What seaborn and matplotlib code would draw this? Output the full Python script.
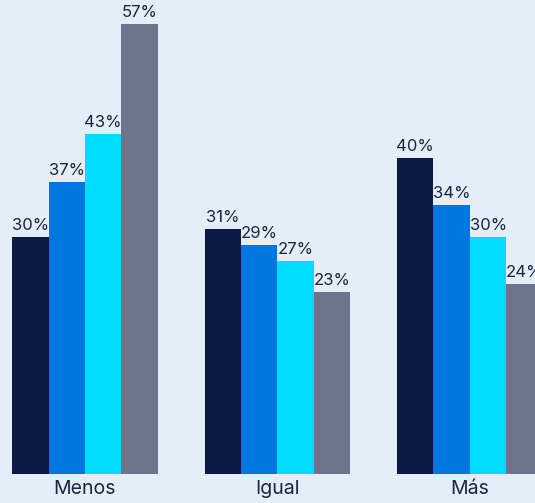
import pandas as pd
import matplotlib.pyplot as plt
import seaborn as sns

categorias = ['Menos', 'Igual', 'Más']
series = ['S1', 'S2', 'S3', 'S4']
valores_s1 = [30, 31, 40]
valores_s2 = [37, 29, 34]
valores_s3 = [43, 27, 30]
valores_s4 = [57, 23, 24]
colores = ['#0c1944', '#0077df', '#00dcfe', '#6d758d']

df = pd.DataFrame({
    'categoria': categorias * 4,
    'serie': [s for s in series for _ in categorias],
    'valor': valores_s1 + valores_s2 + valores_s3 + valores_s4,
})

sns.set_style('white')
plt.rcParams['font.family'] = ['Inter', 'DejaVu Sans']
fondo = '#e3eef9'
texto = '#1b2440'

fig = plt.figure(figsize=(5.35, 5.03), dpi=100, facecolor=fondo)
ax = fig.add_axes([0, 0.0577, 1, 0.9423])
ax.set_facecolor(fondo)

sns.barplot(data=df, x='categoria', y='valor', hue='serie', order=categorias,
            hue_order=series, palette=colores, saturation=1, width=0.758,
            errorbar=None, legend=False, linewidth=0, ax=ax)

for cont in ax.containers:
    ax.bar_label(cont, fmt='%.0f%%', padding=3, fontsize=12, color=texto)

ax.set_ylim(0, 60)
ax.set_xlim(-0.4416, 2.338)
ax.set_xlabel('')
ax.set_ylabel('')
ax.set_yticks([])
ax.tick_params(axis='x', length=0, pad=4, labelsize=14, labelcolor=texto)
sns.despine(ax=ax, left=True, bottom=True)

plt.savefig('out.png', dpi=100, facecolor=fondo)
